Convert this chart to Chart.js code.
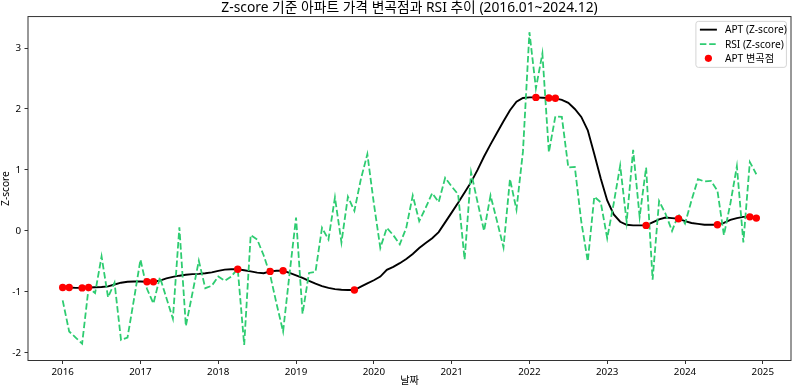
<!DOCTYPE html>
<html><head><meta charset="utf-8">
<script src="https://cdn.jsdelivr.net/npm/chart.js@4.4.1/dist/chart.umd.min.js"></script>
<style>html,body{margin:0;padding:0;background:#fff;}#wrap{width:795px;height:388px;}</style>
</head><body><div id="wrap"><canvas id="c" width="795" height="388"></canvas></div>
<script>
// ---- data ----
const START_YEAR = 2016;           // first month = 2016.01, monthly to 2024.12
const yearTicks = [2016, 2017, 2018, 2019, 2020, 2021, 2022, 2023, 2024, 2025];
const zTicks = [-2, -1, 0, 1, 2, 3];
const aptZ = [
  -0.93, -0.93, -0.935, -0.935, -0.93, -0.925, -0.92, -0.91, -0.88, -0.85,
  -0.835, -0.83, -0.83, -0.835, -0.835, -0.815, -0.78, -0.755, -0.735, -0.72,
  -0.71, -0.705, -0.695, -0.68, -0.655, -0.635, -0.63, -0.63, -0.645, -0.665,
  -0.685, -0.695, -0.665, -0.655, -0.655, -0.69, -0.73, -0.77, -0.82, -0.865,
  -0.905, -0.935, -0.955, -0.965, -0.97, -0.97, -0.915, -0.86, -0.81, -0.75,
  -0.64, -0.59, -0.53, -0.46, -0.38, -0.28, -0.2, -0.12, -0.02, 0.14,
  0.3, 0.46, 0.63, 0.8, 1.0, 1.22, 1.42, 1.61, 1.8, 1.98,
  2.12, 2.18, 2.19, 2.19, 2.185, 2.18, 2.175, 2.15, 2.1, 2.0,
  1.87, 1.65, 1.26, 0.86, 0.5, 0.27, 0.15, 0.1, 0.09, 0.09,
  0.09, 0.14, 0.19, 0.22, 0.21, 0.2, 0.16, 0.13, 0.115, 0.1,
  0.1, 0.1, 0.13, 0.18, 0.21, 0.23, 0.23, 0.21
];
const rsiZ = [
  -1.14, -1.65, -1.75, -1.85, -0.93, -1.02, -0.42, -1.09, -0.85, -1.79,
  -1.75, -1.12, -0.47, -0.95, -1.19, -0.76, -1.1, -1.44, 0.06, -1.56,
  -1.03, -0.49, -0.94, -0.9, -0.75, -0.82, -0.75, -0.62, -1.87, -0.07,
  -0.14, -0.4, -0.72, -1.2, -1.65, -0.7, 0.22, -1.36, -0.69, -0.67,
  0.05, -0.14, 0.55, -0.19, 0.56, 0.33, 0.85, 1.26, 0.45, -0.28,
  0.05, -0.07, -0.22, 0.05, 0.58, 0.16, 0.38, 0.62, 0.47, 0.87,
  0.73, 0.6, -0.47, 0.96, 0.47, 0.0, 0.58, 0.16, -0.27, 0.85,
  0.35, 1.3, 3.26, 2.34, 2.91, 1.29, 1.88, 1.87, 1.04, 1.05,
  0.15, -0.5, 0.56, 0.47, -0.12, 0.45, 1.07, 0.15, 1.33, 0.23,
  1.04, -0.8, 0.49, 0.28, 0.0, 0.27, 0.12, 0.5, 0.85, 0.81,
  0.82, 0.66, -0.07, 0.45, 1.06, -0.19, 1.13, 0.93
];
const inflectionIdx = [0, 1, 3, 4, 13, 14, 27, 32, 34, 45, 73, 75, 76, 90, 95, 101, 106, 107];
const seriesLabels = ['APT (Z-score)', 'RSI (Z-score)', 'APT 변곡점'];
const titleText = 'Z-score 기준 아파트 가격 변곡점과 RSI 추이 (2016.01~2024.12)';

// ---- build ----
const monthPos = i => START_YEAR + i / 12;
const aptPts = aptZ.map((v, i) => ({x: monthPos(i), y: v}));
const rsiPts = rsiZ.map((v, i) => ({x: monthPos(i), y: v}));
const inflPts = inflectionIdx.map(i => ({x: monthPos(i), y: aptZ[i]}));

const FONT = "'Noto Sans', 'Noto Sans CJK KR', sans-serif";
Chart.defaults.font.family = FONT;
Chart.defaults.color = '#000';

const xSpan = monthPos(aptZ.length - 1) - monthPos(0);
const xMin = monthPos(0) - 0.05 * xSpan, xMax = monthPos(aptZ.length - 1) + 0.05 * xSpan;
const allY = aptZ.concat(rsiZ);
const yLo = Math.min(...allY), yHi = Math.max(...allY), ySpan = yHi - yLo;
const yMin = yLo - 0.05 * ySpan, yMax = yHi + 0.05 * ySpan;

const GREEN = '#2ecc71';

const framePlugin = {
  id: 'frame',
  afterDatasetsDraw(chart) {
    const {ctx, chartArea: a} = chart;
    ctx.save();
    ctx.strokeStyle = '#333';
    ctx.lineWidth = 1;
    ctx.strokeRect(a.left, a.top, a.right - a.left, a.bottom - a.top);
    ctx.restore();
  }
};

const legendPlugin = {
  id: 'mplLegend',
  afterDraw(chart) {
    const {ctx, chartArea: a} = chart;
    const fs = 10.2;
    const right = a.right - 4.6, top = a.top + 4.8;
    const w = 90.5, h = 46;
    const left = right - w;
    ctx.save();
    const r = 2.5;
    ctx.beginPath();
    ctx.moveTo(left + r, top);
    ctx.lineTo(right - r, top); ctx.quadraticCurveTo(right, top, right, top + r);
    ctx.lineTo(right, top + h - r); ctx.quadraticCurveTo(right, top + h, right - r, top + h);
    ctx.lineTo(left + r, top + h); ctx.quadraticCurveTo(left, top + h, left, top + h - r);
    ctx.lineTo(left, top + r); ctx.quadraticCurveTo(left, top, left + r, top);
    ctx.closePath();
    ctx.fillStyle = 'rgba(255,255,255,0.8)';
    ctx.fill();
    ctx.strokeStyle = '#d4d4d4';
    ctx.lineWidth = 1;
    ctx.stroke();
    const rows = [top + 8.3, top + 22.8, top + 37];
    const hx0 = left + 4, hx1 = left + 21;
    const ds = chart.data.datasets;
    ctx.strokeStyle = ds[0].borderColor; ctx.lineWidth = ds[0].borderWidth; ctx.setLineDash([]);
    ctx.beginPath(); ctx.moveTo(hx0, rows[0]); ctx.lineTo(hx1, rows[0]); ctx.stroke();
    ctx.strokeStyle = ds[1].borderColor; ctx.lineWidth = ds[1].borderWidth; ctx.setLineDash(ds[1].borderDash);
    ctx.beginPath(); ctx.moveTo(hx0, rows[1]); ctx.lineTo(hx1, rows[1]); ctx.stroke();
    ctx.setLineDash([]);
    ctx.fillStyle = ds[2].backgroundColor;
    ctx.beginPath(); ctx.arc((hx0 + hx1) / 2, rows[2], 3.6, 0, Math.PI * 2); ctx.fill();
    ctx.fillStyle = '#000';
    ctx.font = fs + 'px ' + FONT;
    ctx.textBaseline = 'middle';
    ctx.textAlign = 'left';
    for (let i = 0; i < 3; i++) ctx.fillText(ds[i].label, left + 29, rows[i] + 0.5);
    ctx.restore();
  }
};

new Chart(document.getElementById('c'), {
  type: 'line',
  data: {
    datasets: [
      {label: seriesLabels[0], data: aptPts, borderColor: '#000', borderWidth: 1.9,
       pointRadius: 0, tension: 0, order: 2},
      {label: seriesLabels[1], data: rsiPts, borderColor: GREEN, borderWidth: 1.8,
       borderDash: [6.5, 2.8], pointRadius: 0, tension: 0, order: 1},
      {label: seriesLabels[2], type: 'scatter', data: inflPts, backgroundColor: '#ff0000',
       borderColor: '#ff0000', pointRadius: 3.7, pointBorderWidth: 0, showLine: false, order: 0}
    ]
  },
  options: {
    responsive: false,
    devicePixelRatio: 1,
    animation: false,
    layout: {padding: {left: 0, right: 2, top: 0, bottom: 0}},
    plugins: {
      legend: {display: false},
      tooltip: {enabled: false},
      title: {display: true, text: titleText, color: '#000', fullSize: false,
              font: {size: 13.8, weight: 'normal', family: FONT},
              padding: {top: 0, bottom: 0}}
    },
    scales: {
      x: {
        type: 'linear', min: xMin, max: xMax,
        afterBuildTicks: s => { s.ticks = yearTicks.map(v => ({value: v})); },
        afterFit: s => { s.height = 27.5; },
        ticks: {callback: v => String(v), font: {size: 9.8}, color: '#000', padding: 2,
                maxRotation: 0, autoSkip: false},
        grid: {drawOnChartArea: false, drawTicks: true, tickLength: 3.5, tickColor: '#333', tickWidth: 1},
        border: {display: false},
        title: {display: true, text: '날짜', font: {size: 10.2}, color: '#000', padding: {top: 0, bottom: 1}}
      },
      y: {
        type: 'linear', min: yMin, max: yMax,
        afterBuildTicks: s => { s.ticks = zTicks.map(v => ({value: v})); },
        afterFit: s => { s.width = 28; },
        ticks: {callback: v => String(v), font: {size: 9.8}, color: '#000', padding: 3.5},
        grid: {drawOnChartArea: false, drawTicks: true, tickLength: 3.5, tickColor: '#333', tickWidth: 1},
        border: {display: false},
        title: {display: true, text: 'Z-score', font: {size: 10.2}, color: '#000', padding: {top: 0, bottom: 0}}
      }
    }
  },
  plugins: [framePlugin, legendPlugin]
});
</script>
</body></html>
